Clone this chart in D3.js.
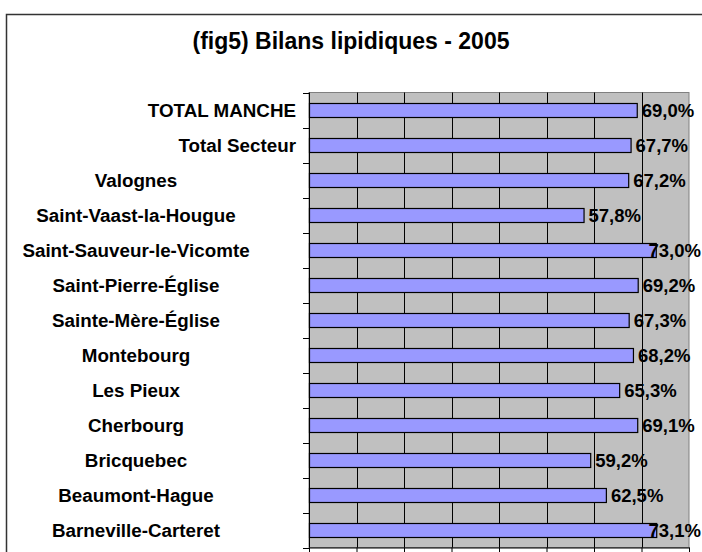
<!DOCTYPE html>
<html lang="fr">
<head>
<meta charset="UTF-8" />
<title>(fig5) Bilans lipidiques - 2005</title>
<script src="https://d3js.org/d3.v7.min.js"></script>
<style>
    body { margin: 0; background: #fff; }
    svg { display: block; font-family: Arial, "Liberation Sans", sans-serif; }
</style>
</head>
<body>
<div id="chart"></div>
<script>
    // data, top to bottom
    const categories = [
        "TOTAL MANCHE", "Total Secteur", "Valognes", "Saint-Vaast-la-Hougue",
        "Saint-Sauveur-le-Vicomte", "Saint-Pierre-Église", "Sainte-Mère-Église",
        "Montebourg", "Les Pieux", "Cherbourg", "Bricquebec", "Beaumont-Hague",
        "Barneville-Carteret"
    ];
    const values = [69.0, 67.7, 67.2, 57.8, 73.0, 69.2, 67.3, 68.2, 65.3, 69.1, 59.2, 62.5, 73.1];
    const totals = ["TOTAL MANCHE", "Total Secteur"];
    const xTicks = [0, 10, 20, 30, 40, 50, 60, 70, 80];
    const title = "(fig5) Bilans lipidiques - 2005";

    const width = 702, height = 552;
    const plot = { left: 309, top: 92.5, right: 689, bottom: 547.5 };

    const svg = d3.select("#chart").append("svg")
        .attr("width", width)
        .attr("height", height);

    // outer frame (only left and top edges fall inside the picture)
    svg.append("rect")
        .attr("x", 6.5).attr("y", 14.5)
        .attr("width", 710).attr("height", 560)
        .attr("fill", "none")
        .attr("stroke", "#333")
        .attr("stroke-width", 1.5);

    svg.append("text")
        .attr("x", 351)
        .attr("y", 49)
        .attr("text-anchor", "middle")
        .attr("font-size", 23)
        .attr("font-weight", "bold")
        .text(title);

    const x = d3.scaleLinear().domain([0, 80]).range([plot.left, plot.right]);
    const y = d3.scaleBand().domain(categories)
        .range([plot.top, plot.bottom])
        .paddingInner(0.6)
        .paddingOuter(0.3);

    // plot area
    svg.append("rect")
        .attr("x", plot.left).attr("y", plot.top)
        .attr("width", plot.right - plot.left)
        .attr("height", plot.bottom - plot.top)
        .attr("fill", "#c0c0c0")
        .attr("stroke", "#808080")
        .attr("stroke-width", 1);

    // vertical gridlines
    svg.append("g")
        .selectAll("line")
        .data(xTicks.slice(1, -1))
        .join("line")
        .attr("x1", d => Math.round(x(d)) + 0.5)
        .attr("x2", d => Math.round(x(d)) + 0.5)
        .attr("y1", plot.top)
        .attr("y2", plot.bottom)
        .attr("stroke", "#000")
        .attr("stroke-width", 1);

    // bottom value axis, labels fall outside the picture
    svg.append("g")
        .attr("transform", `translate(0,${plot.bottom})`)
        .call(d3.axisBottom(x).tickValues(xTicks).tickSize(5).tickFormat(""))
        .call(g => g.select(".domain").attr("stroke", "#000"));

    // bars
    svg.append("g")
        .selectAll("rect")
        .data(values)
        .join("rect")
        .attr("x", x(0) + 0.5)
        .attr("y", (d, i) => Math.round(y(categories[i])) + 0.5)
        .attr("width", d => x(d) - x(0))
        .attr("height", y.bandwidth())
        .attr("fill", "#9999ff")
        .attr("stroke", "#000")
        .attr("stroke-width", 1.2);

    // category axis with ticks between bands
    const ax = svg.append("g");
    ax.append("line")
        .attr("x1", plot.left + 0.5).attr("x2", plot.left + 0.5)
        .attr("y1", plot.top).attr("y2", plot.bottom)
        .attr("stroke", "#000");
    ax.selectAll(".tk")
        .data(d3.range(categories.length + 1))
        .join("line")
        .attr("class", "tk")
        .attr("x1", plot.left - 6).attr("x2", plot.left)
        .attr("y1", i => Math.round(plot.top + i * y.step()) + 0.5)
        .attr("y2", i => Math.round(plot.top + i * y.step()) + 0.5)
        .attr("stroke", "#000");

    svg.append("g")
        .selectAll("text")
        .data(categories)
        .join("text")
        .attr("x", d => totals.includes(d) ? 296 : 136)
        .attr("y", d => y(d) + y.bandwidth() / 2 + 6.5)
        .attr("text-anchor", d => totals.includes(d) ? "end" : "middle")
        .attr("font-size", 18.8)
        .attr("font-weight", "bold")
        .text(d => d);

    // value labels, kept inside the chart area like the original
    const fmt = v => v.toFixed(1).replace(".", ",") + "%";
    svg.append("g")
        .selectAll("text")
        .data(values)
        .join("text")
        .attr("y", (d, i) => y(categories[i]) + y.bandwidth() / 2 + 6.5)
        .attr("font-size", 18.5)
        .attr("font-weight", "bold")
        .text(fmt)
        .attr("x", function (d) {
            const w = this.getComputedTextLength();
            return Math.min(x(d) + 5, width - 1 - w);
        });
</script>
</body>
</html>
